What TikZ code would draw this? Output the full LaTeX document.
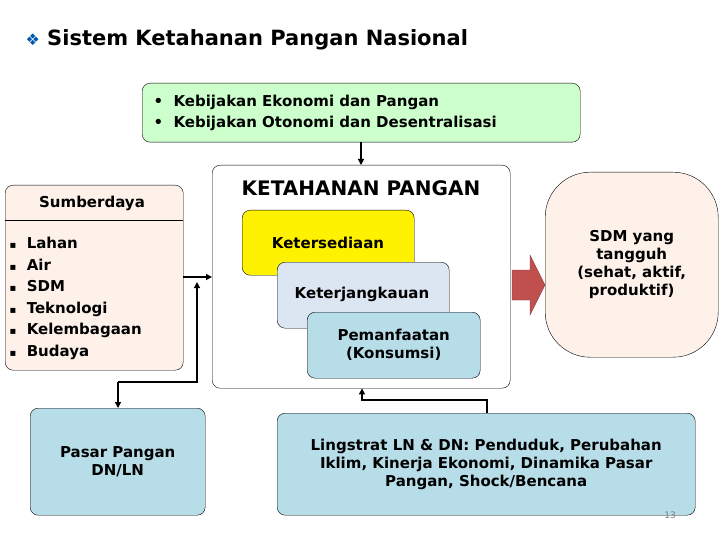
\documentclass[tikz,border=0pt]{standalone}
\usepackage{fontspec}
\setmainfont{DejaVu Sans}
\usetikzlibrary{arrows.meta,positioning}
\definecolor{peach}{HTML}{FDF1EA}
\definecolor{mint}{HTML}{CCFFCC}
\definecolor{pale}{HTML}{DCE6F2}
\definecolor{aqua}{HTML}{B7DDE8}
\definecolor{brick}{HTML}{C0504D}
\newcommand{\sq}{{\fontsize{10}{10}\selectfont ▪}\ \ }
\tikzset{
  box/.style = {draw=black, rounded corners=8pt, font=\bfseries\fontsize{15}{18}\selectfont, align=center, inner sep=0pt},
  link/.style = {very thick, -{Triangle[length=6pt,width=6pt]}},
}
\begin{document}
\begin{tikzpicture}[x=1pt, y=-1pt]
		\useasboundingbox (0,0) rectangle (720,540);
		\node[anchor=west, font=\bfseries\fontsize{21}{24}\selectfont] (title) at (22,40)
			{{\color{teal!70!blue}\fontsize{16}{16}\selectfont ❖}\ Sistem Ketahanan Pangan Nasional};

		\node[box, fill=mint, minimum width=438pt, minimum height=59pt, anchor=north west] (policy) at (142,83) {};
		\node[anchor=west, align=left, font=\bfseries\fontsize{15}{21}\selectfont] at (150,113)
			{\textbullet\ \ Kebijakan Ekonomi dan Pangan\\ \textbullet\ \ Kebijakan Otonomi dan Desentralisasi};

		% main block
		\node[box, fill=white, minimum width=298pt, minimum height=223pt, anchor=north west] (food) at (212,165) {};
		\node[font=\bfseries\fontsize{20}{22}\selectfont] (foodT) at (361,188) {KETAHANAN PANGAN};
		\node[box, fill=yellow, minimum width=172pt, minimum height=65pt, anchor=north west] (avail) at (242,210) {};
		\node[font=\bfseries\fontsize{15}{18}\selectfont] at (328,243) {Ketersediaan};
		\node[box, fill=pale, minimum width=172pt, minimum height=66pt, anchor=north west] (access) at (277,262) {};
		\node[font=\bfseries\fontsize{15}{18}\selectfont] at (362,294) {Keterjangkauan};
		\node[box, fill=aqua, minimum width=173pt, minimum height=66pt, anchor=north west] (use) at (307,312)
			{Pemanfaatan\\(Konsumsi)};

		% resources
		\node[box, fill=peach, minimum width=178pt, minimum height=185pt, anchor=north west] (res) at (5,185) {};
		\node[font=\bfseries\fontsize{15}{18}\selectfont] (resT) at (92,203) {Sumberdaya};
		\draw (5,220) -- (183,220);
		\node[anchor=north west, align=left, font=\bfseries\fontsize{15}{21.5}\selectfont] (list) at (6,234)
			{\sq Lahan\\ \sq Air\\ \sq SDM\\ \sq Teknologi\\ \sq Kelembagaan\\ \sq Budaya};

		\node[box, fill=peach, rounded corners=45pt, minimum width=173pt, minimum height=185pt, anchor=north west] (sdm) at (545,172)
			{SDM yang\\tangguh\\(sehat, aktif,\\produktif)};
		\draw[fill=brick, draw=brick!70!black] (512,270) -- (530,270) -- (530,255) -- (545,285)
			-- (530,315) -- (530,300) -- (512,300) -- cycle;

		\node[box, fill=aqua, minimum width=175pt, minimum height=107pt, anchor=north west] (market) at (30,408)
			{Pasar Pangan\\DN/LN};
		\node[box, fill=aqua, minimum width=418pt, minimum height=102pt, anchor=north west] (env) at (277,413)
			{Lingstrat LN \& DN: Penduduk, Perubahan\\Iklim, Kinerja Ekonomi, Dinamika Pasar\\Pangan, Shock/Bencana};
		\node[text=gray, font=\fontsize{9}{10}\selectfont] (page) at (670,515) {13};

		% connectors
		\coordinate (join) at (197,277);
		\draw[link] (policy.south -| 361,0) -- (food.north -| 361,0);
		\draw[link] (res.east |- join) -- (food.west |- join);
		\draw[link] (118,382) -- (118,408);
		\draw[link] (118,382) -- (197,382) -- (197,282);
		\draw[link] (env.north -| 487,0) -- (487,400) -- (362,400) -- (food.south -| 362,0);
	\end{tikzpicture}
\end{document}
